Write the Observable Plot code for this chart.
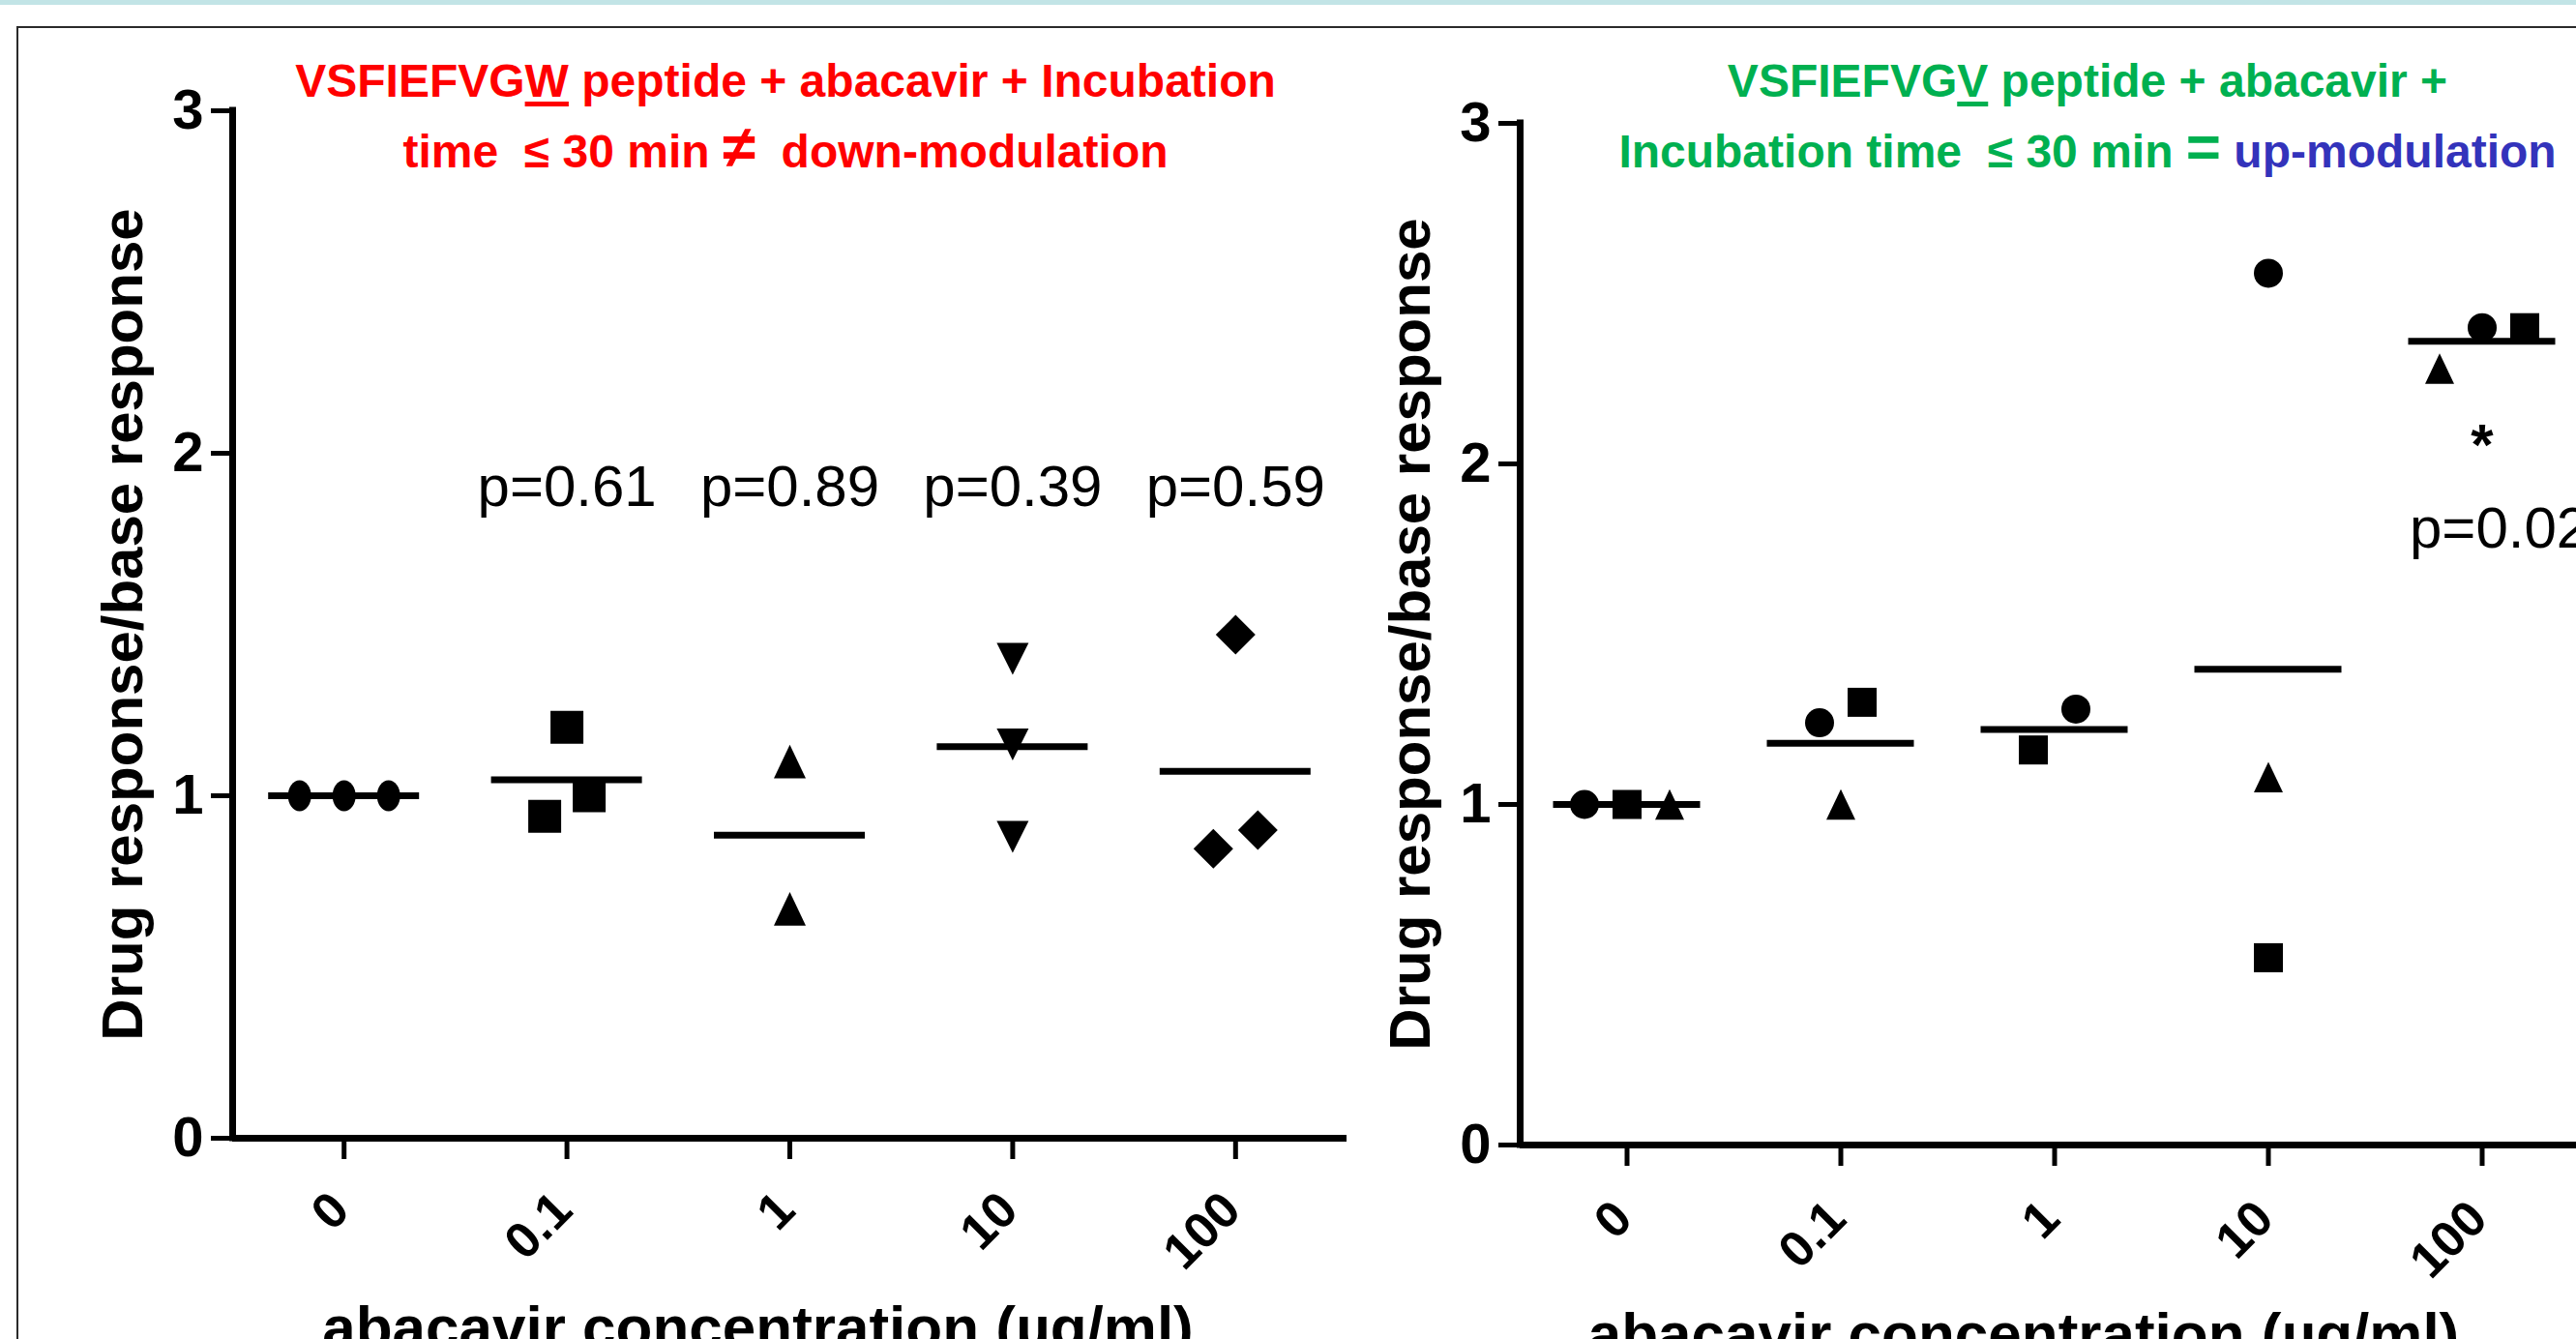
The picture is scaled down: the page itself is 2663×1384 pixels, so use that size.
<!DOCTYPE html>
<html><head><meta charset="utf-8">
<script src="https://cdn.jsdelivr.net/npm/d3@7"></script>
<script src="https://cdn.jsdelivr.net/npm/@observablehq/plot@0.6"></script>
<style>
html,body{margin:0;padding:0;background:#fff;overflow:hidden;}
#page{position:relative;width:2663px;height:1384px;overflow:hidden;background:#fff;font-family:"Liberation Sans",Arial,sans-serif;}
#band{position:absolute;left:0;top:0;width:2663px;height:5px;background:#c2e4e6;}
#frame{position:absolute;left:17px;top:27px;width:2700px;height:1400px;border-left:2px solid #2a2a2a;border-top:2px solid #2a2a2a;}
.title{position:absolute;top:47px;width:1400px;text-align:center;font-weight:bold;font-size:48px;}
.title div{height:73px;line-height:73px;white-space:pre;}
.title u{text-decoration-thickness:5px;text-underline-offset:5px;}
.big{font-size:62px;line-height:0;}
.chart{position:absolute;top:0;}
.chart svg{max-width:none !important;overflow:visible;background:transparent;}
</style></head>
<body><div id="page">
<div id="band"></div>
<div id="frame"></div>
<div id="chartW" class="chart" style="left:0px"></div>
<div id="chartV" class="chart" style="left:1400px"></div>
<div class="title" style="left:112px;color:#ff0000">
<div><span>VSFIEFVG</span><u>W</u><span> peptide + abacavir + Incubation</span></div>
<div><span>time  ≤ 30 min </span><span class="big">≠</span><span>  down-modulation</span></div>
</div>
<div class="title" style="left:1458px;color:#00b050">
<div><span>VSFIEFVG</span><u>V</u><span> peptide + abacavir +</span></div>
<div><span>Incubation time  ≤ 30 min </span><span class="big">=</span><span style="color:#3333bb"> up-modulation</span></div>
</div>
</div>
<script>
// ---------- data ----------
const concentrations = ["0", "0.1", "1", "10", "100"];
const yTicks = [0, 1, 2, 3];
// Left panel: VSFIEFVGW peptide (one symbol set per concentration)
const wConc0   = [1.00, 1.00, 1.00];
const wConc01  = [1.20, 1.00, 0.94];
const wConc1   = [1.10, 0.67];
const wConc10  = [1.40, 1.15, 0.88];
const wConc100 = [1.47, 0.90, 0.845];
const wPValues = ["", "p=0.61", "p=0.89", "p=0.39", "p=0.59"];
// Right panel: VSFIEFVGV peptide, three replicates (circle, square, triangle)
const vCircle   = [1.00, 1.24, 1.28, 2.56, 2.40];
const vSquare   = [1.00, 1.30, 1.16, 0.55, 2.40];
const vTriangle = [1.00, 1.00, null, 1.08, 2.28];
const vPValue = "p=0.02";
const yLabel = "Drug response/base response";
const xLabel = "abacavir concentration (µg/ml)";

// ---------- symbols ----------
const half = (size) => Math.sqrt(size / Math.PI);
const symSquare = {draw(c, s){ const h = half(s); c.rect(-h, -h, 2*h, 2*h); }};
const symTriangle = {draw(c, s){ const h = half(s); c.moveTo(0, -h*1.05); c.lineTo(h, h*1.05); c.lineTo(-h, h*1.05); c.closePath(); }};
const symInvTriangle = {draw(c, s){ const h = half(s); c.moveTo(-h, -h); c.lineTo(h, -h); c.lineTo(0, h); c.closePath(); }};
const symDiamond = {draw(c, s){ const h = half(s); c.moveTo(0, -h); c.lineTo(h, 0); c.lineTo(0, h); c.lineTo(-h, 0); c.closePath(); }};
const symCircle = {draw(c, s){ const h = half(s); c.moveTo(h, 0); c.arc(0, 0, h, 0, 2*Math.PI); c.closePath(); }};
const symEllipse = {draw(c, s){ const h = half(s), rx = 0.75*h, ry = h, k = 0.5523;
  c.moveTo(0, -ry);
  c.bezierCurveTo(k*rx, -ry, rx, -k*ry, rx, 0);
  c.bezierCurveTo(rx, k*ry, k*rx, ry, 0, ry);
  c.bezierCurveTo(-k*rx, ry, -rx, k*ry, -rx, 0);
  c.bezierCurveTo(-rx, -k*ry, -k*rx, -ry, 0, -ry);
  c.closePath(); }};

// ---------- layout helper: spread overlapping points side by side ----------
function dodge(points, spacingPx, stepPx, thresh) {
  const byCat = d3.group(points, p => p.cat);
  for (const [, pts] of byCat) {
    const sorted = pts.slice().sort((a, b) => a.v - b.v || a.s - b.s);
    const clusters = [];
    for (const p of sorted) {
      const last = clusters[clusters.length - 1];
      if (last && p.v - last[last.length - 1].v < thresh) last.push(p); else clusters.push([p]);
    }
    for (const cl of clusters) cl.forEach((p, i) => { p.x = p.cat + (i - (cl.length - 1) / 2) * spacingPx / stepPx; });
  }
  return points;
}

const FONT = "Liberation Sans, Arial, sans-serif";

function panel({width, marginLeft, marginRight, marginTop, marginBottom, points, symbolMarks, meanHalf, annotations, xLabelDy, xLabelDx, tickLabelDy}) {
  const means = d3.rollups(points, v => d3.mean(v, p => p.v), p => p.cat).map(([cat, m]) => ({cat, m}));
  return Plot.plot({
    width, height: 1384, marginLeft, marginRight, marginTop, marginBottom,
    style: {fontFamily: FONT, background: "transparent", overflow: "visible", color: "black"},
    x: {domain: [-0.5, 4.5]},
    y: {domain: [0, 3]},
    marks: [
      Plot.axisY({ticks: yTicks, tickFormat: d => String(d), tickSize: 22, tickPadding: 8, strokeWidth: 5, fontSize: 58, fontWeight: "bold", label: null}),
      Plot.axisX({ticks: [0, 1, 2, 3, 4], tickSize: 22, strokeWidth: 5, tickFormat: () => "", label: null}),
      Plot.ruleY([0], {strokeWidth: 7}),
      Plot.ruleX([-0.5], {y1: 0, y2: 3, strokeWidth: 7, strokeLinecap: "square"}),
      Plot.text(concentrations, {x: (d, i) => i, frameAnchor: "bottom", dx: 8, dy: tickLabelDy, text: d => d, rotate: -45, textAnchor: "end", fontSize: 52, fontWeight: "bold"}),
      Plot.text([yLabel], {frameAnchor: "left", dx: -113, rotate: -90, textAnchor: "middle", text: d => d, fontSize: 60, fontWeight: "bold"}),
      Plot.text([xLabel], {frameAnchor: "bottom", dx: xLabelDx, dy: xLabelDy, textAnchor: "middle", lineAnchor: "bottom", text: d => d, fontSize: 62, fontWeight: "bold"}),
      ...symbolMarks,
      Plot.ruleY(means, {y: "m", x1: d => d.cat - meanHalf, x2: d => d.cat + meanHalf, strokeWidth: 7}),
      ...annotations
    ]
  });
}

// ---------- left panel ----------
const wColumns = [wConc0, wConc01, wConc1, wConc10, wConc100];
const wSymbols = [symEllipse, symSquare, symTriangle, symInvTriangle, symDiamond];
const wRadius = [16, 17, 16.5, 16.5, 20.5];
const wStep = 1152 / 5;
const wPoints = dodge(wColumns.flatMap((col, cat) => col.map(v => ({cat, v, s: 0}))), 46, wStep, 0.15);
const wMarks = wSymbols.map((sym, cat) => Plot.dot(wPoints.filter(p => p.cat === cat), {x: "x", y: "v", symbol: sym, r: wRadius[cat], fill: "black", stroke: "none"}));
const wPData = wPValues.map((t, i) => ({cat: i, t})).filter(d => d.t);
const left = panel({
  width: 1400, marginLeft: 240, marginRight: 8, marginTop: 114, marginBottom: 208,
  points: wPoints, symbolMarks: wMarks, meanHalf: 78 / wStep,
  xLabelDx: -33, xLabelDy: 216, tickLabelDy: 77,
  annotations: [
    Plot.text(wPData, {x: "cat", y: 1.845, text: "t", lineAnchor: "bottom", fontSize: 60, fontWeight: "normal"})
  ]
});
document.getElementById("chartW").append(left);

// ---------- right panel ----------
const vSeries = [vCircle, vSquare, vTriangle];
const vSymbols = [symCircle, symSquare, symTriangle];
const vStep = 221;
const vPoints = dodge(vSeries.flatMap((ser, s) => ser.map((v, cat) => ({cat, v, s})).filter(p => p.v != null)), 44, vStep, 0.15);
const vMarks = vSymbols.map((sym, s) => Plot.dot(vPoints.filter(p => p.s === s), {x: "x", y: "v", symbol: sym, r: 15, fill: "black", stroke: "none"}));
const right = panel({
  width: 1290, marginLeft: 171, marginRight: 14, marginTop: 127, marginBottom: 201,
  points: vPoints, symbolMarks: vMarks, meanHalf: 76 / vStep,
  xLabelDx: -32, xLabelDy: 216, tickLabelDy: 79,
  annotations: [
    Plot.text(["*"], {x: 4, y: 2.0, text: d => d, lineAnchor: "bottom", fontSize: 60, fontWeight: "bold"}),
    Plot.text([vPValue], {x: 4, y: 1.755, text: d => d, dx: -75, textAnchor: "start", lineAnchor: "bottom", fontSize: 60, fontWeight: "normal"})
  ]
});
document.getElementById("chartV").append(right);
</script>
</body></html>
